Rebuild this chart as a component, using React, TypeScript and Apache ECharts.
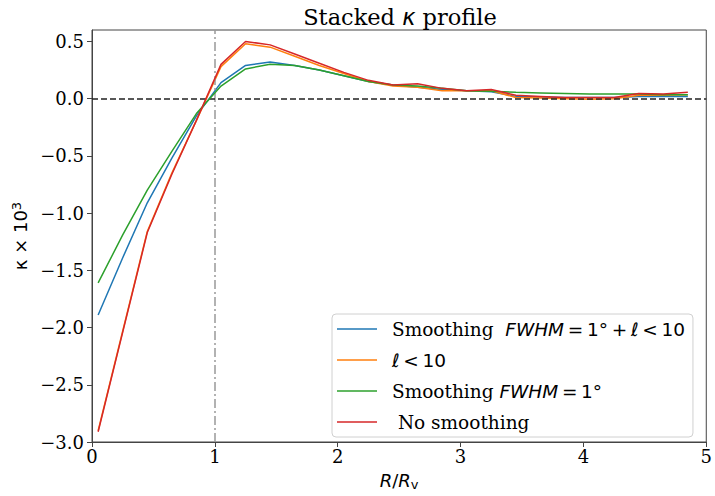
import React, { useEffect, useRef } from "react";
import * as echarts from "echarts";

const radii = [0.05, 0.25, 0.45, 0.65, 0.85, 1.05, 1.25, 1.45, 1.65, 1.85, 2.05, 2.25, 2.45, 2.65, 2.85, 3.05, 3.25, 3.45, 3.65, 3.85, 4.05, 4.25, 4.45, 4.65, 4.85];
const smoothLowL = [-1.89, -1.39, -0.91, -0.52, -0.15, 0.14, 0.29, 0.32, 0.29, 0.25, 0.2, 0.15, 0.12, 0.1, 0.08, 0.07, 0.06, 0.02, 0.015, 0.01, 0.01, 0.01, 0.02, 0.02, 0.02];
const lowL = [-2.9, -2.03, -1.16, -0.65, -0.19, 0.28, 0.48, 0.45, 0.37, 0.29, 0.22, 0.15, 0.11, 0.1, 0.07, 0.07, 0.07, 0.01, 0.005, 0.0, -0.005, 0.0, 0.03, 0.03, 0.035];
const smoothOnly = [-1.61, -1.19, -0.8, -0.46, -0.13, 0.11, 0.26, 0.3, 0.29, 0.25, 0.2, 0.15, 0.12, 0.11, 0.09, 0.07, 0.065, 0.055, 0.05, 0.045, 0.04, 0.04, 0.04, 0.035, 0.035];
const noSmooth = [-2.91, -2.04, -1.17, -0.66, -0.19, 0.3, 0.5, 0.47, 0.39, 0.31, 0.23, 0.16, 0.12, 0.13, 0.09, 0.07, 0.08, 0.03, 0.02, 0.01, 0.01, 0.01, 0.045, 0.04, 0.055];

const seriesNames = ["s1", "s2", "s3", "s4"];
const seriesColors = ["#1f77b4", "#ff7f0e", "#2ca02c", "#d62728"];
const legendLabels: Record<string, string> = {
  s1: "{s0|Smoothing  }{mi|FWHM}{m|\u2009=\u20091°\u2009+\u2009}{mi|ℓ}{m|\u2009<\u200910}",
  s2: "{mi0|ℓ}{m|\u2009<\u200910}",
  s3: "{s0|Smoothing }{mi|FWHM}{m|\u2009=\u20091°}",
  s4: "{s0| No smoothing}",
};

const SERIF = "DejaVu Serif";
const SANS = "DejaVu Sans";
const LF = 18.5;

export default function App() {
  const ref = useRef<HTMLDivElement>(null);
  useEffect(() => {
    if (!ref.current) return;
    const chart = echarts.init(ref.current, undefined, { renderer: "svg" });
    const allData = [smoothLowL, lowL, smoothOnly, noSmooth];
    const fmtY = (v: number) => {
      if (Math.abs(v) < 1e-9) return "0.0";
      return v.toFixed(1).replace("-", "\u2212");
    };
    chart.setOption({
      animation: false,
      backgroundColor: "#fff",
      grid: { left: 92, right: 6, top: 30, bottom: 46, show: true, borderColor: "#444", borderWidth: 1, backgroundColor: "transparent" },
      graphic: [
        {
          type: "text",
          x: 400,
          y: 17,
          style: {
            text: "{s|Stacked }{k|κ}{s| profile}",
            align: "center",
            verticalAlign: "middle",
            rich: {
              s: { fontFamily: SERIF, fontSize: 22.5, fill: "#000" },
              k: { fontFamily: SANS, fontStyle: "italic", fontSize: 22.5, fill: "#000" },
            },
          },
        },
      ],
      xAxis: {
        type: "value",
        min: 0,
        max: 5,
        interval: 1,
        axisLine: { show: true, onZero: false, lineStyle: { color: "#444", width: 1 } },
        axisTick: { show: true, length: 5, lineStyle: { color: "#444" } },
        splitLine: { show: false },
        axisLabel: { fontFamily: SERIF, fontSize: 18, color: "#000", margin: 5 },
        name: "{i|R}{n|/}{i|R}{sub|v}",
        nameLocation: "middle",
        nameGap: 28,
        nameTextStyle: {
          rich: {
            i: { fontFamily: SANS, fontStyle: "italic", fontSize: 18, color: "#000" },
            n: { fontFamily: SANS, fontSize: 18, color: "#000" },
            sub: { fontFamily: SANS, fontSize: 13, color: "#000", padding: [8, 0, 0, 0] },
          },
        },
      },
      yAxis: {
        type: "value",
        min: -3,
        max: 0.6,
        interval: 0.5,
        axisLine: { show: true, onZero: false, lineStyle: { color: "#444", width: 1 } },
        axisTick: { show: true, length: 5, lineStyle: { color: "#444" } },
        splitLine: { show: false },
        axisLabel: { fontFamily: SERIF, fontSize: 18, color: "#000", margin: 8, showMaxLabel: false, formatter: fmtY },
        name: "{n|κ × 10}{sup|3}",
        nameLocation: "middle",
        nameRotate: 90,
        nameGap: 60,
        nameTextStyle: {
          rich: {
            n: { fontFamily: SANS, fontSize: 18, color: "#000" },
            sup: { fontFamily: SANS, fontSize: 13, color: "#000", padding: [0, 0, 8, 0] },
          },
        },
      },
      legend: {
        data: seriesNames,
        orient: "vertical",
        left: 332,
        top: 314,
        padding: [5, 8, 5, 5],
        itemGap: 11,
        itemWidth: 40,
        itemHeight: 12,
        icon: "path://M0,0 L40,0 L40,1.5 L0,1.5 Z",
        borderColor: "#d0d0d0",
        borderWidth: 1,
        borderRadius: 4,
        backgroundColor: "rgba(255,255,255,0.85)",
        formatter: (n: string) => legendLabels[n],
        textStyle: {
          lineHeight: 20,
          rich: {
            s0: { fontFamily: SERIF, fontSize: LF, lineHeight: 20, color: "#000", padding: [0, 0, 0, 10] },
            mi0: { fontFamily: SANS, fontStyle: "italic", fontSize: LF, lineHeight: 20, color: "#000", padding: [0, 0, 0, 10] },
            mi: { fontFamily: SANS, fontStyle: "italic", fontSize: LF, lineHeight: 20, color: "#000" },
            m: { fontFamily: SANS, fontSize: LF, lineHeight: 20, color: "#000" },
          },
        },
      },
      series: [
        ...seriesNames.map((name, i) => ({
          name,
          type: "line",
          data: radii.map((r, j) => [r, allData[i][j]]),
          showSymbol: false,
          symbol: "none",
          color: seriesColors[i],
          lineStyle: { width: 1.5, color: seriesColors[i] },
          z: 3 + i,
        })),
        {
          name: "refs",
          type: "line",
          data: [],
          z: 10,
          markLine: {
            silent: true,
            symbol: "none",
            label: { show: false },
            data: [
              { xAxis: 1, lineStyle: { color: "#999", width: 1.5, type: [9, 3, 2, 3] } },
              { yAxis: 0, lineStyle: { color: "#222", width: 1.5, type: [6, 3] } },
            ],
          },
        },
      ],
    });
    return () => chart.dispose();
  }, []);
  return <div ref={ref} style={{ width: 715, height: 496, position: "absolute", left: 0, top: 0 }} />;
}
